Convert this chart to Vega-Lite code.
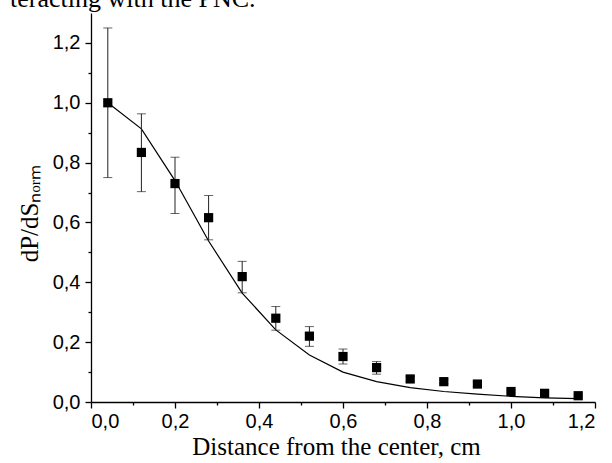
{
  "$schema": "https://vega.github.io/schema/vega-lite/v6.json",
  "width": 504,
  "height": 389,
  "autosize": {"type": "none"},
  "padding": {"left": 91, "top": 13, "right": 17, "bottom": 61},
  "background": "white",
  "title": {
    "text": "teracting with the PNC.",
    "anchor": "start",
    "frame": "group",
    "font": "Liberation Serif",
    "fontSize": 26,
    "fontWeight": "normal",
    "color": "black",
    "dx": -81,
    "offset": 1
  },
  "config": {
    "view": {"stroke": null},
    "axis": {
      "grid": false,
      "domainColor": "black",
      "domainWidth": 1.3,
      "tickColor": "black",
      "tickWidth": 1.3,
      "labelColor": "black",
      "labelFont": "Liberation Sans",
      "labelFontSize": 20,
      "titleFont": "Liberation Serif",
      "titleFontSize": 25,
      "titleFontWeight": "normal",
      "titleColor": "black"
    }
  },
  "datasets": {
    "points": [
      {"x": 0.04, "y": 1.0, "lo": 0.75, "hi": 1.25},
      {"x": 0.12, "y": 0.834, "lo": 0.703, "hi": 0.963},
      {"x": 0.20, "y": 0.730, "lo": 0.630, "hi": 0.818},
      {"x": 0.28, "y": 0.616, "lo": 0.542, "hi": 0.690},
      {"x": 0.36, "y": 0.419, "lo": 0.365, "hi": 0.470},
      {"x": 0.44, "y": 0.280, "lo": 0.240, "hi": 0.319},
      {"x": 0.52, "y": 0.220, "lo": 0.186, "hi": 0.252},
      {"x": 0.60, "y": 0.152, "lo": 0.127, "hi": 0.177},
      {"x": 0.68, "y": 0.115, "lo": 0.093, "hi": 0.135},
      {"x": 0.76, "y": 0.077, "lo": 0.069, "hi": 0.086},
      {"x": 0.84, "y": 0.068, "lo": 0.061, "hi": 0.075},
      {"x": 0.92, "y": 0.060, "lo": 0.052, "hi": 0.068},
      {"x": 1.00, "y": 0.035, "lo": 0.030, "hi": 0.040},
      {"x": 1.08, "y": 0.029, "lo": 0.024, "hi": 0.034},
      {"x": 1.16, "y": 0.021, "lo": 0.017, "hi": 0.024}
    ],
    "fit": [
      {"x": 0.04, "fit": 1.0},
      {"x": 0.12, "fit": 0.913},
      {"x": 0.20, "fit": 0.740},
      {"x": 0.28, "fit": 0.538},
      {"x": 0.36, "fit": 0.364},
      {"x": 0.44, "fit": 0.241},
      {"x": 0.52, "fit": 0.157},
      {"x": 0.60, "fit": 0.100},
      {"x": 0.68, "fit": 0.068},
      {"x": 0.76, "fit": 0.048},
      {"x": 0.84, "fit": 0.035},
      {"x": 0.92, "fit": 0.026},
      {"x": 1.00, "fit": 0.019},
      {"x": 1.08, "fit": 0.014},
      {"x": 1.16, "fit": 0.011}
    ]
  },
  "layer": [
    {
      "data": {"name": "fit"},
      "mark": {"type": "line", "color": "black", "strokeWidth": 1.2},
      "encoding": {
        "x": {
          "field": "x", "type": "quantitative",
          "scale": {"domain": [0, 1.2], "nice": false, "zero": false},
          "axis": {
            "orient": "bottom",
            "values": [0, 0.2, 0.4, 0.6, 0.8, 1.0, 1.2],
            "tickSize": 6,
            "labelPadding": 3,
            "labelExpr": "replace(format(datum.value, '.1f'), '.', ',')",
            "title": "Distance from the center, cm",
            "titlePadding": 3,
            "titleX": 245
          }
        },
        "y": {
          "field": "fit", "type": "quantitative",
          "scale": {"domain": [0, 1.3], "nice": false, "zero": false},
          "axis": {
            "orient": "left",
            "values": [0, 0.2, 0.4, 0.6, 0.8, 1.0, 1.2],
            "tickSize": 6,
            "labelPadding": 5,
            "labelExpr": "replace(format(datum.value, '.1f'), '.', ',')",
            "title": "dP/dSₙₒᵣₘ",
            "titlePadding": 10,
            "titleY": 200
          }
        }
      }
    },
    {
      "data": {"name": "points"},
      "mark": {"type": "rule", "color": "#222", "strokeWidth": 1},
      "encoding": {
        "x": {
          "field": "x", "type": "quantitative",
          "axis": {
            "orient": "bottom",
            "values": [0.1, 0.3, 0.5, 0.7, 0.9, 1.1],
            "tickSize": 3,
            "labels": false,
            "domain": false,
            "title": null
          }
        },
        "y": {
          "field": "lo", "type": "quantitative",
          "axis": {
            "orient": "left",
            "values": [0.1, 0.3, 0.5, 0.7, 0.9, 1.1],
            "tickSize": 3,
            "labels": false,
            "domain": false,
            "title": null
          }
        },
        "y2": {"field": "hi"}
      }
    },
    {
      "data": {"name": "points"},
      "mark": {"type": "tick", "orient": "horizontal", "color": "#222", "size": 9, "thickness": 1},
      "encoding": {
        "x": {"field": "x", "type": "quantitative", "axis": null},
        "y": {"field": "lo", "type": "quantitative", "axis": null}
      }
    },
    {
      "data": {"name": "points"},
      "mark": {"type": "tick", "orient": "horizontal", "color": "#222", "size": 9, "thickness": 1},
      "encoding": {
        "x": {"field": "x", "type": "quantitative", "axis": null},
        "y": {"field": "hi", "type": "quantitative", "axis": null}
      }
    },
    {
      "data": {"name": "points"},
      "mark": {"type": "point", "shape": "square", "filled": true, "color": "black", "size": 85, "opacity": 1},
      "encoding": {
        "x": {"field": "x", "type": "quantitative", "axis": null},
        "y": {"field": "y", "type": "quantitative", "axis": null}
      }
    }
  ],
  "resolve": {"axis": {"x": "independent", "y": "independent"}}
}
